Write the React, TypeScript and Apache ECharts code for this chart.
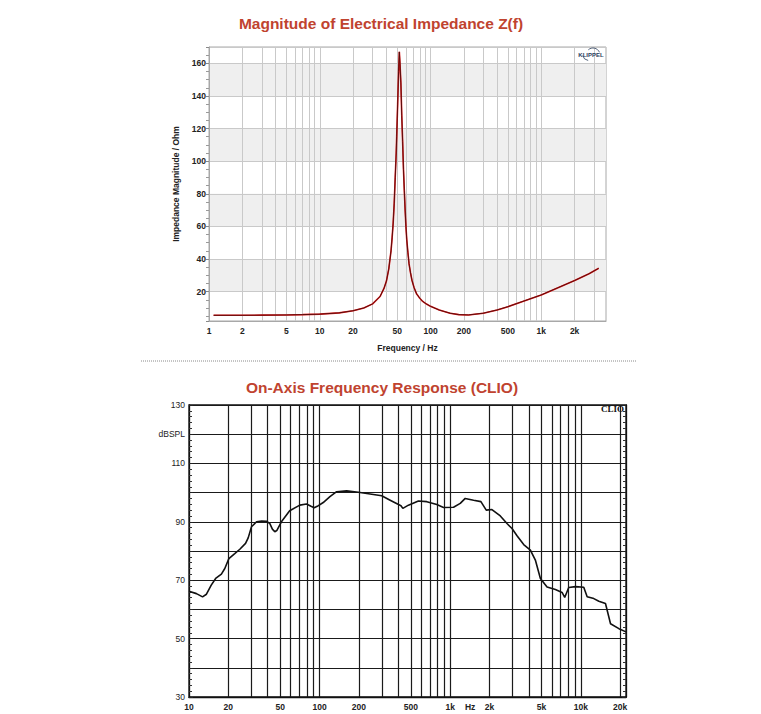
import React, { useEffect, useRef } from "react";
import * as echarts from "echarts";

// ---------- Top chart: impedance magnitude ----------
const topFreq = [1.1, 2, 3, 5, 7, 10, 15, 20, 25, 30, 35, 38, 40, 42, 44, 45, 46, 47, 48, 49, 49.5, 50.5, 51.5, 52.3, 53, 54, 55, 56, 57, 58, 59, 60, 61, 62.5, 64, 66, 68, 71, 75, 80, 85, 92, 100, 120, 150, 180, 220, 300, 400, 500, 700, 1000, 1400, 2000, 2700, 3300];
const topZ = [5.5, 5.5, 5.6, 5.7, 5.9, 6.2, 7.0, 8.3, 10.0, 12.5, 17, 22, 26.5, 34, 45, 53, 62, 74, 90, 105, 115, 135, 155, 167, 160, 148, 128, 112, 95, 82, 70, 60, 52, 44, 37, 31.5, 27, 22.5, 18.5, 16, 14, 12.4, 11, 8.7, 6.8, 5.9, 5.7, 6.8, 8.8, 10.8, 14.3, 18, 22.3, 26.8, 31, 34.3];
const topGridFreqs = [1, 2, 3, 4, 5, 6, 7, 8, 9, 10, 20, 30, 40, 50, 60, 70, 80, 90, 100, 200, 300, 400, 500, 600, 700, 800, 900, 1000, 2000, 3000];
const topLabelFreqs = [1, 2, 5, 10, 20, 50, 100, 200, 500, 1000, 2000];
const topLabelTexts = ["1", "2", "5", "10", "20", "50", "100", "200", "500", "1k", "2k"];
const topFreqMax = 3840;
const topZMin = 2;
const topZMax = 170;

// ---------- Bottom chart: on-axis frequency response ----------
const bottomFreq = [10, 11.4, 12.7, 13.6, 14.8, 16, 17.7, 18.8, 20.2, 22.4, 24.5, 27.1, 28.4, 30.1, 32.9, 36, 39.2, 41.6, 43.5, 45.4, 47, 51, 59, 70.6, 79.4, 86, 91, 96, 106.6, 120, 135, 161, 198, 230, 299, 347, 402, 420, 434, 479, 571, 662, 790, 889, 1061, 1194, 1304, 1511, 1719, 1889, 2088, 2420, 2723, 2975, 3250, 3655, 4113, 4490, 4907, 5519, 6395, 7190, 7535, 8087, 9103, 10540, 11190, 12590, 13750, 15460, 16900, 19590, 22200];
const bottomSPL = [66.2, 65.4, 64.3, 65.2, 68.3, 70.6, 72.1, 74, 77.4, 79.1, 80.6, 82.6, 84.5, 88.3, 90, 90.3, 90.2, 89.4, 87.5, 86.6, 87, 90, 93.8, 95.7, 96.1, 95.3, 94.8, 95.3, 96.6, 98.6, 100.3, 100.6, 100.1, 99.7, 98.9, 97.4, 95.9, 95.5, 94.6, 95.7, 97.1, 96.9, 95.9, 94.9, 95, 96.3, 98, 97.4, 96.9, 94, 94.2, 92, 89.4, 87.7, 85.2, 82.2, 80.3, 76.9, 70.6, 67.7, 66.8, 65.8, 64.1, 67.5, 67.8, 67.6, 64.3, 63.7, 62.8, 62, 55.1, 53.4, 52.3];
const bottomGridFreqs = [20, 30, 40, 50, 60, 70, 80, 90, 100, 200, 300, 400, 500, 600, 700, 800, 900, 1000, 2000, 3000, 4000, 5000, 6000, 7000, 8000, 9000, 10000, 20000];
const bottomLabelFreqs = [10, 20, 50, 100, 200, 500, 1000, 1420, 2000, 5000, 10000, 20000];
const bottomLabelTexts = ["10", "20", "50", "100", "200", "500", "1k", "Hz", "2k", "5k", "10k", "20k"];
const bottomFreqMin = 10;
const bottomFreqMax = 22200;
const bottomYValues = [30, 50, 70, 90, 110, 120, 130];
const bottomYTexts = ["30", "50", "70", "90", "110", "dBSPL", "130"];

const lg = Math.log10;
const FONT = '"Liberation Sans", Arial, Helvetica, sans-serif';

const labelFor = (freqs: number[], texts: string[]) => (v: number) => {
  const i = freqs.findIndex((f) => Math.abs(lg(f) - v) < 1e-6);
  return i >= 0 ? texts[i] : "";
};

export default function App() {
  const ref = useRef<HTMLDivElement>(null);

  useEffect(() => {
    if (!ref.current) return;
    const chart = echarts.init(ref.current, undefined, { renderer: "svg" });

    const topData = topFreq.map((f, i) => [lg(f), topZ[i]]);
    const bottomData = bottomFreq.map((f, i) => [lg(f), bottomSPL[i]]);

    const option: any = {
      animation: false,
      textStyle: { fontFamily: FONT },
      grid: [
        { left: 209, top: 47, width: 397, height: 274, show: true, borderColor: "#a8a8a8", borderWidth: 1, backgroundColor: "#ffffff" },
        { left: 189, top: 405, width: 437, height: 292, show: true, borderColor: "#111111", borderWidth: 1.3, backgroundColor: "#ffffff" },
      ],
      xAxis: [
        {
          type: "value",
          gridIndex: 0,
          min: 0,
          max: lg(topFreqMax),
          name: "Frequency / Hz",
          nameLocation: "middle",
          nameGap: 22,
          nameTextStyle: { fontSize: 8.5, fontWeight: "bold", color: "#222", fontFamily: FONT },
          axisLine: { show: true, lineStyle: { color: "#a8a8a8" } },
          axisTick: { show: false, customValues: topGridFreqs.map(lg) },
          axisLabel: {
            customValues: topLabelFreqs.map(lg),
            formatter: labelFor(topLabelFreqs, topLabelTexts),
            fontSize: 8.5,
            fontWeight: "bold",
            color: "#222",
            margin: 5,
            fontFamily: FONT,
          },
          splitLine: { show: true, lineStyle: { color: "#c9c9c9", width: 1 } },
        },
        {
          type: "value",
          gridIndex: 1,
          min: lg(bottomFreqMin),
          max: lg(bottomFreqMax),
          axisLine: { show: true, lineStyle: { color: "#111", width: 1.3 } },
          axisTick: { show: false, customValues: bottomGridFreqs.map(lg) },
          axisLabel: {
            customValues: bottomLabelFreqs.map(lg),
            formatter: labelFor(bottomLabelFreqs, bottomLabelTexts),
            fontSize: 8.5,
            fontWeight: "bold",
            color: "#222",
            margin: 5,
            fontFamily: FONT,
          },
          splitLine: { show: true, lineStyle: { color: "#1a1a1a", width: 1.2 } },
        },
      ],
      yAxis: [
        {
          type: "value",
          gridIndex: 0,
          min: topZMin,
          max: topZMax,
          splitNumber: 8,
          name: "Impedance Magnitude / Ohm",
          nameLocation: "middle",
          nameRotate: 90,
          nameGap: 26,
          nameTextStyle: { fontSize: 8.5, fontWeight: "bold", color: "#222", fontFamily: FONT },
          axisLine: { show: true, lineStyle: { color: "#a8a8a8" } },
          axisTick: { show: true, length: 3, lineStyle: { color: "#888" } },
          minorTick: { show: true, splitNumber: 4, length: 3, lineStyle: { color: "#999" } },
          axisLabel: {
            fontSize: 8.5,
            fontWeight: "bold",
            color: "#222",
            margin: 3,
            fontFamily: FONT,
            formatter: (v: number) => (v % 20 === 0 ? String(v) : ""),
          },
          splitLine: { show: true, lineStyle: { color: "#c9c9c9", width: 1 } },
          splitArea: { show: true, areaStyle: { color: ["rgba(255,255,255,0)", "#efefef"] } },
        },
        {
          type: "value",
          gridIndex: 1,
          min: 30,
          max: 130,
          interval: 10,
          axisLine: { show: true, lineStyle: { color: "#111", width: 1.3 } },
          axisTick: { show: true, inside: true, length: 4, lineStyle: { color: "#222" } },
          minorTick: { show: true, splitNumber: 5, length: 3, lineStyle: { color: "#333" } },
          axisLabel: {
            fontSize: 8.5,
            color: "#222",
            margin: 4,
            fontFamily: FONT,
            formatter: (v: number) => {
              const i = bottomYValues.indexOf(v);
              return i >= 0 ? bottomYTexts[i] : "";
            },
          },
          splitLine: { show: true, lineStyle: { color: "#1a1a1a", width: 1.2 } },
        },
        {
          type: "value",
          gridIndex: 1,
          position: "right",
          min: 30,
          max: 130,
          interval: 10,
          axisLine: { show: true, lineStyle: { color: "#111", width: 1.3 } },
          axisTick: { show: true, inside: true, length: 4, lineStyle: { color: "#222" } },
          minorTick: { show: true, splitNumber: 5, length: 3, lineStyle: { color: "#333" } },
          axisLabel: { show: false },
          splitLine: { show: false },
        },
      ],
      series: [
        {
          type: "line",
          xAxisIndex: 0,
          yAxisIndex: 0,
          data: topData,
          showSymbol: false,
          symbol: "none",
          lineStyle: { color: "#e31a1a", width: 1.6 },
          z: 3,
        },
        {
          type: "line",
          xAxisIndex: 0,
          yAxisIndex: 0,
          data: topData,
          showSymbol: false,
          symbol: "none",
          lineStyle: { color: "#4a0c0c", width: 0.9 },
          z: 4,
        },
        {
          type: "line",
          xAxisIndex: 1,
          yAxisIndex: 1,
          data: bottomData,
          showSymbol: false,
          symbol: "none",
          lineStyle: { color: "#111111", width: 1.6 },
          z: 3,
        },
      ],
      graphic: [
        {
          type: "text",
          x: 381,
          y: 23,
          style: {
            text: "Magnitude of Electrical Impedance Z(f)",
            fill: "#c0432f",
            fontSize: 15.5,
            fontWeight: "bold",
            fontFamily: FONT,
            align: "center",
            verticalAlign: "middle",
            textAlign: "center",
            textVerticalAlign: "middle",
          },
        },
        {
          type: "text",
          x: 382,
          y: 387,
          style: {
            text: "On-Axis Frequency Response (CLIO)",
            fill: "#c0432f",
            fontSize: 15.5,
            fontWeight: "bold",
            fontFamily: FONT,
            align: "center",
            verticalAlign: "middle",
            textAlign: "center",
            textVerticalAlign: "middle",
          },
        },
        {
          type: "line",
          shape: { x1: 141, y1: 361, x2: 637, y2: 361 },
          style: { stroke: "#8a8a8a", lineWidth: 1, lineDash: [1, 1] },
        },
        {
          type: "text",
          x: 591,
          y: 54.5,
          z: 10,
          style: {
            text: "KLIPPEL",
            fill: "#2b3d5c",
            fontSize: 6,
            fontWeight: "bold",
            fontFamily: FONT,
            align: "center",
            verticalAlign: "middle",
            textAlign: "center",
            textVerticalAlign: "middle",
          },
        },
        {
          type: "arc",
          z: 10,
          shape: { cx: 593, cy: 55, r: 7, startAngle: -2.3, endAngle: -0.4 },
          style: { stroke: "#2b3d5c", lineWidth: 0.8, fill: "none" },
        },
        {
          type: "arc",
          z: 10,
          shape: { cx: 589, cy: 54, r: 6.5, startAngle: 1.7, endAngle: 2.9 },
          style: { stroke: "#2b3d5c", lineWidth: 0.8, fill: "none" },
        },
        {
          type: "text",
          x: 624,
          y: 409,
          z: 10,
          style: {
            text: "CLIO",
            fill: "#111",
            fontSize: 9,
            fontWeight: "bold",
            fontFamily: '"Liberation Serif", "DejaVu Serif", serif',
            align: "right",
            verticalAlign: "middle",
            textAlign: "right",
            textVerticalAlign: "middle",
          },
        },
      ],
    };

    chart.setOption(option);
    return () => chart.dispose();
  }, []);

  return (
    <div
      ref={ref}
      style={{ position: "absolute", left: 0, top: 0, width: 761, height: 714, background: "#ffffff" }}
    />
  );
}
